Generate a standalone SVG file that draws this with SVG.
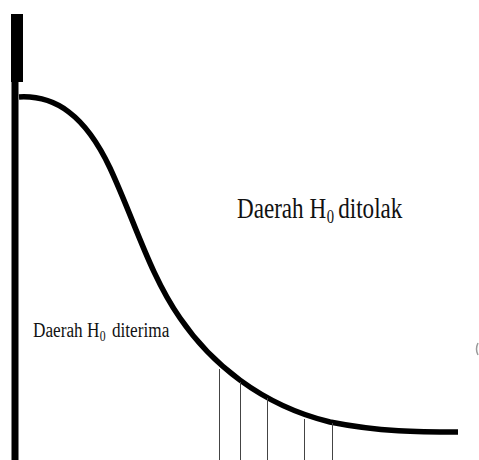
<svg xmlns="http://www.w3.org/2000/svg" width="479" height="460" viewBox="0 0 479 460">
<style>
.t{font-family:"Liberation Serif","Times New Roman",serif;fill:#111}
.curve{fill:none;stroke:#000;stroke-width:5.5;stroke-linecap:butt}
.tick{stroke:#444;stroke-width:1}
</style>
<rect width="479" height="460" fill="#fff"/>
<g id="axis">
<rect x="11" y="14" width="12" height="68" fill="#000"/>
<rect x="11.5" y="80" width="7" height="380" fill="#000"/>
</g>
<g id="connectors">
<path class="curve" d="M19,97 C55,95 85,115 110,168 C135,222 150,275 180,318 C210,362 260,405 330,422 C380,432 420,432 458,432"/>
<line class="tick" x1="219.5" y1="369" x2="219.5" y2="460"/>
<line class="tick" x1="240.5" y1="382" x2="240.5" y2="460"/>
<line class="tick" x1="267.5" y1="398" x2="267.5" y2="460"/>
<line class="tick" x1="304.5" y1="419" x2="304.5" y2="460"/>
<line class="tick" x1="332.5" y1="423" x2="332.5" y2="460"/>
</g>
<g id="label-ditolak" transform="translate(237,218) scale(0.77,1)">
<text class="t" x="0" y="0" font-size="30">Daerah H</text>
<text class="t" x="116.5" y="5" font-size="19">0</text>
<text class="t" x="131.5" y="0" font-size="30">ditolak</text>
</g>
<g id="label-diterima" transform="translate(33,337) scale(0.84,1)">
<text class="t" x="0" y="0" font-size="20.5">Daerah H</text>
<text class="t" x="79.5" y="4" font-size="14">0</text>
<text class="t" x="94" y="0" font-size="20.5">diterima</text>
</g>
<path d="M478,343 Q475,349 478,355" fill="none" stroke="#999" stroke-width="1.5"/>
</svg>
